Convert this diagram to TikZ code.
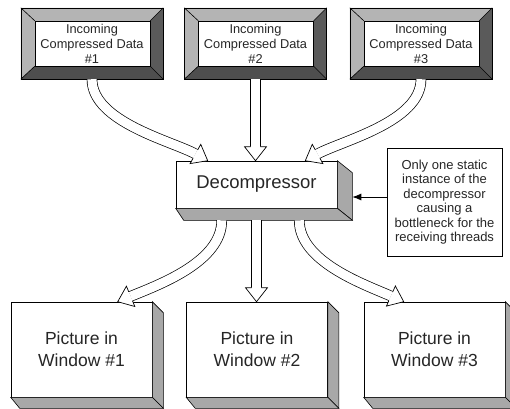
\documentclass[tikz,border=0pt]{standalone}
\usepackage{fontspec}
\setmainfont{Liberation Sans}
\usetikzlibrary{calc,arrows.meta}
\definecolor{bevlight}{HTML}{B4B4B4}
\definecolor{bevdark}{HTML}{5A5A5A}
\definecolor{bevdarker}{HTML}{4E4E4E}
\definecolor{sidegray}{HTML}{A8A8A8}
\definecolor{txt}{HTML}{262626}

\newcommand{\arrowhead}[2]{% #1 = point the shaft comes from, #2 = tip
  \coordinate (hT) at (#2);
  \coordinate (hB) at ($(#2)!14pt!(#1)$);
  \coordinate (hL) at ($(hB)!11pt!90:(hT)$);
  \coordinate (hR) at ($(hB)!11pt!-90:(hT)$);
  \coordinate (sL) at ($(hB)!4.9pt!90:(hT)$);
  \coordinate (sR) at ($(hB)!4.9pt!-90:(hT)$);
}
\newcommand{\drawhead}{%
  \fill[white] (hL) -- (hT) -- (hR) -- cycle;
  \draw[headline] (sL) -- (hL) -- (hT) -- (hR) -- (sR);
}
\newcommand{\hollowarrow}[4]{%
  \arrowhead{#3}{#4}
  \draw[shaft] (#1) .. controls (#2) and (#3) .. (hB);
  \drawhead
}
\newcommand{\hollowstraight}[2]{%
  \arrowhead{#1}{#2}
  \draw[shaft] (#1) -- (hB);
  \drawhead
}

\newcommand{\bevelbox}[3]{%
  \node[inbox] (#1) at (#2) {#3};
  \fill[bevlight] (#1.north west) -- (#1.north east) -- ($(#1.north east)+(-13,13)$) -- ($(#1.north west)+(14,13)$) -- cycle;
  \fill[bevlight] (#1.north west) -- ($(#1.north west)+(14,13)$) -- ($(#1.south west)+(14,-13)$) -- (#1.south west) -- cycle;
  \fill[bevdark] (#1.north east) -- ($(#1.north east)+(-13,13)$) -- ($(#1.south east)+(-13,-13)$) -- (#1.south east) -- cycle;
  \fill[bevdarker] (#1.south west) -- ($(#1.south west)+(14,-13)$) -- ($(#1.south east)+(-13,-13)$) -- (#1.south east) -- cycle;
  \draw[thinline] (#1.north west) rectangle (#1.south east);
  \draw[thinline] ($(#1.north west)+(14,13)$) rectangle ($(#1.south east)+(-13,-13)$);
  \draw[thinline] (#1.north west) -- ++(14,13);
  \draw[thinline] (#1.north east) -- ++(-13,13);
  \draw[thinline] (#1.south west) -- ++(14,-13);
  \draw[thinline] (#1.south east) -- ++(-13,-13);
}

\newcommand{\extrude}[4]{%
  \filldraw[sidegray, draw=black, thinline] (#1.north east) -- ++(#2,#3) -- ($(#1.south east)+(#2,#3)$) -- (#1.south east) -- cycle;
  \filldraw[sidegray, draw=black, thinline] (#1.south west) -- (#1.south east) -- ($(#1.south east)+(#2,#3)$) -- ($(#1.south west)+(#4,#3)$) -- cycle;
}

\tikzset{
  thinline/.style={line width=0.6pt, line join=miter},
  shaft/.style={draw=black, line width=0.7pt, double=white, double distance=9.2pt},
  headline/.style={line width=0.7pt, line join=miter},
  inbox/.style={minimum width=142pt, minimum height=71pt, inner sep=0pt, align=center,
    text=txt, font=\fontsize{12.8}{15}\selectfont},
  decbox/.style={draw, thinline, fill=white, minimum width=161pt, minimum height=47pt, inner sep=0pt,
    text=txt, font=\fontsize{18.5}{21}\selectfont},
  winbox/.style={draw, thinline, fill=white, minimum width=141pt, minimum height=95pt, inner sep=0pt,
    align=center, text=txt, font=\fontsize{17.5}{22}\selectfont},
  notebox/.style={draw, thinline, fill=white, minimum width=115pt, minimum height=108pt, inner sep=0pt,
    align=center, text=txt, font=\fontsize{13}{14.5}\selectfont},
}

\begin{document}
\begin{tikzpicture}[x=1pt, y=-1pt]
\useasboundingbox (0,0) rectangle (510,408);
\clip (0,0) rectangle (510,408);

% incoming data boxes
\bevelbox{in1}{92,43.5}{Incoming\\Compressed Data\\\#1}
\bevelbox{in2}{255.5,43.5}{Incoming\\Compressed Data\\\#2}
\bevelbox{in3}{421,43.5}{Incoming\\Compressed Data\\\#3}

% decompressor
\node[decbox] (dec) at (256.5,184.5) {Decompressor};
\extrude{dec}{15}{12}{8}

% output windows
\node[winbox] (out1) at (81.5,349.5) {Picture in\\Window \#1};
\node[winbox] (out2) at (257,349.5) {Picture in\\Window \#2};
\node[winbox] (out3) at (434.5,349.5) {Picture in\\Window \#3};
\extrude{out1}{11}{11}{9}
\extrude{out2}{11}{11}{9}
\extrude{out3}{11}{11}{9}

% note
\node[notebox] (note) at (444.5,202) {Only one static\\instance of the\\decompressor\\causing a\\bottleneck for the\\receiving threads};
\coordinate (noteA) at ($(note.west)+(0,-5)$);
\coordinate (decR) at ($(dec.north east)+(15,0)$);
\draw[-{Latex[length=9pt,width=7pt]}, line width=0.9pt] (noteA) -- (noteA -| decR);

% incoming arrows
\coordinate (a1s) at (in1.south);
\coordinate (a1t) at ($(dec.north west)+(32,0)$);
\hollowarrow{a1s}{92,122}{172,141}{a1t}
\coordinate (a2s) at (in2.south);
\coordinate (a2t) at (in2.south |- dec.north);
\hollowstraight{a2s}{a2t}
\coordinate (a3s) at (in3.south);
\coordinate (a3t) at ($(dec.north east)+(-32,0)$);
\hollowarrow{a3s}{421,122}{341,141}{a3t}

% outgoing arrows
\coordinate (b1s) at ($(dec.south west)+(46,12)$);
\coordinate (b1t) at ($(out1.north west)+(107,0)$);
\hollowarrow{b1s}{222,262}{158,285}{b1t}
\coordinate (b2s) at ($(dec.south)+(0,12)$);
\coordinate (b2t) at (b2s |- out2.north);
\hollowstraight{b2s}{b2t}
\coordinate (b3s) at ($(dec.south east)+(-38,12)$);
\coordinate (b3t) at ($(out3.north west)+(40,0)$);
\hollowarrow{b3s}{299,262}{366,285}{b3t}
\end{tikzpicture}
\end{document}
